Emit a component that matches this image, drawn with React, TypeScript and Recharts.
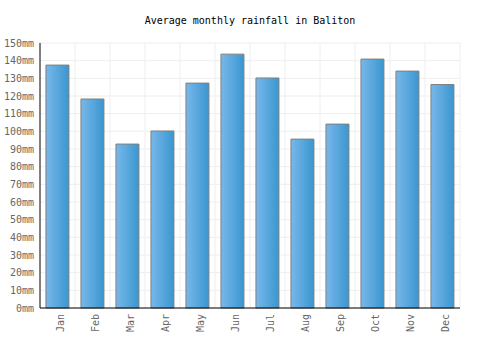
import React from "react"
import { BarChart, Bar, XAxis, YAxis, CartesianGrid } from "recharts"

const months = ["Jan", "Feb", "Mar", "Apr", "May", "Jun", "Jul", "Aug", "Sep", "Oct", "Nov", "Dec"]
const rainfall = [137.5, 118.3, 92.8, 100.2, 127.3, 143.7, 130.2, 95.6, 104.1, 140.9, 134.1, 126.5]
const yTicks = [0, 10, 20, 30, 40, 50, 60, 70, 80, 90, 100, 110, 120, 130, 140, 150]

const data = months.map((m, i) => ({ month: m, rain: rainfall[i] }))

const FONT = "'DejaVu Sans Mono', monospace"

// rotated month labels under the x axis
const MonthTick = ({ x, y, payload }: any) => {
  const tx = x + 3
  const ty = y + 4
  return (
    <text
      x={tx}
      y={ty}
      transform={`rotate(-90, ${tx}, ${ty})`}
      textAnchor="end"
      dominantBaseline="central"
      fill="#666"
      fontSize={10}
      fontFamily={FONT}
    >
      {payload.value}
    </text>
  )
}

const MmTick = ({ x, y, payload }: any) => (
  <text x={x} y={y} textAnchor="end" dominantBaseline="central" fill="#666" fontSize={10} fontFamily={FONT}>
    {`${payload.value}mm`}
  </text>
)

const App: React.FC = () => {
  return (
    <div style={{ position: "absolute", left: 0, top: 0, width: 500, height: 350, background: "#fff" }}>
      <div
        style={{
          position: "absolute",
          top: 15,
          width: 500,
          textAlign: "center",
          fontFamily: FONT,
          fontSize: 10,
          color: "#000",
        }}
      >
        Average monthly rainfall in Baliton
      </div>
      <BarChart
        width={500}
        height={350}
        data={data}
        margin={{ top: 43, right: 40, bottom: 0, left: 0 }}
        barCategoryGap="17%"
      >
        <defs>
          <linearGradient id="barFill" x1="0" y1="0" x2="1" y2="0">
            <stop offset="0%" stopColor="#78b8ea" />
            <stop offset="100%" stopColor="#3a96cf" />
          </linearGradient>
        </defs>
        <CartesianGrid
          stroke="#eeeeee"
          verticalCoordinatesGenerator={({ offset }: any) =>
            months.map((_, i) => offset.left + ((i + 1) * offset.width) / months.length)
          }
        />
        <XAxis
          dataKey="month"
          height={42}
          axisLine={{ stroke: "#000" }}
          tickLine={false}
          tickSize={0}
          interval={0}
          tick={<MonthTick />}
        />
        <YAxis
          width={40}
          domain={[0, 150]}
          ticks={yTicks}
          interval={0}
          axisLine={{ stroke: "#000" }}
          tickLine={false}
          tickSize={0}
          tickMargin={6}
          tick={<MmTick />}
        />
        <Bar dataKey="rain" fill="url(#barFill)" stroke="#808080" strokeWidth={1} isAnimationActive={false} />
      </BarChart>
    </div>
  )
}

export default App
